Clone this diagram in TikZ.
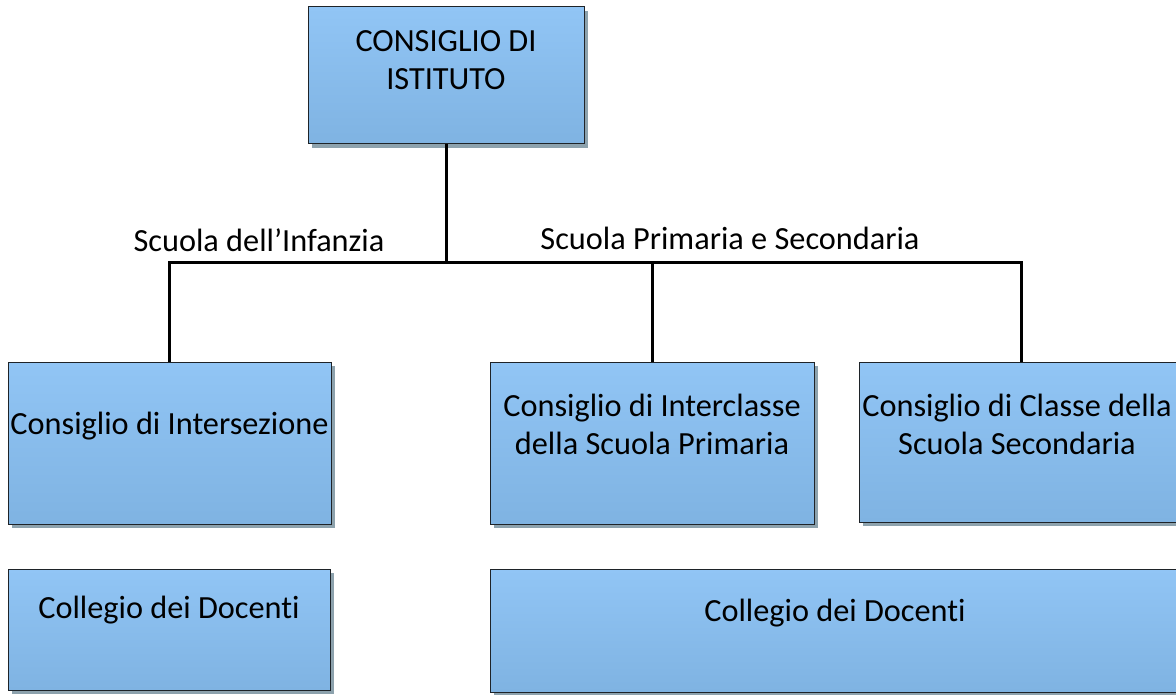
\documentclass[tikz,border=0pt]{standalone}
\usepackage{fontspec}
\setmainfont{Carlito}[Ligatures={NoCommon}]
\usetikzlibrary{shadows}
\definecolor{boxtop}{HTML}{91C5F5}
\definecolor{boxbot}{HTML}{7FB3E2}
\definecolor{shadowc}{HTML}{8DA2AD}
\definecolor{edgec}{HTML}{1E2328}
\tikzset{
  box/.style={draw=edgec, line width=1pt, top color=boxtop, bottom color=boxbot,
    shading angle=0, inner sep=0pt,
    drop shadow={shadow xshift=4pt, shadow yshift=-4pt, fill=shadowc, opacity=1}},
  txt/.style={font=\fontsize{32.3}{38}\selectfont, align=center, inner sep=0pt, text=black},
  conn/.style={line width=3pt, black}
}
\begin{document}
\begin{tikzpicture}[x=1pt,y=-1pt]
\useasboundingbox (0,0) rectangle (1176,695);
\clip (0,0) rectangle (1176,695);
% boxes
\node[box, minimum width=276pt, minimum height=137pt] (top) at (446,75.5) {};
\node[box, minimum width=323pt, minimum height=162pt] (ci) at (169.5,443) {};
\node[box, minimum width=324pt, minimum height=162pt] (icl) at (652,443) {};
\node[box, minimum width=324pt, minimum height=160pt] (cls) at (1021,442) {};
\node[box, minimum width=322pt, minimum height=121pt] (cd1) at (169,629.5) {};
\node[box, minimum width=690pt, minimum height=123pt] (cd2) at (835,630.5) {};
% texts
\node[txt] (ttop) at (446,60) {CONSIGLIO DI\\ISTITUTO};
\node[txt] (tci) at (169.5,426) {Consiglio di Intersezione};
\node[txt] (ticl) at (652,424) {Consiglio di Interclasse\\della Scuola Primaria};
\node[txt] (tcls) at (1017,424) {Consiglio di Classe della\\Scuola Secondaria};
\node[txt] (tcd1) at (169,610) {Collegio dei Docenti};
\node[txt] (tcd2) at (835,613) {Collegio dei Docenti};
\node[txt] (linf) at (259,240) {Scuola dell’Infanzia};
\node[txt] (lprim) at (730,238) {Scuola Primaria e Secondaria};
% connectors
\coordinate (j) at (446,263);
\draw[conn] (top.south) -- (j);
\draw[conn] (j) -| (ci.north);
\draw[conn] (j) -| (icl.north);
\draw[conn] (j) -| (cls.north);
\end{tikzpicture}
\end{document}
